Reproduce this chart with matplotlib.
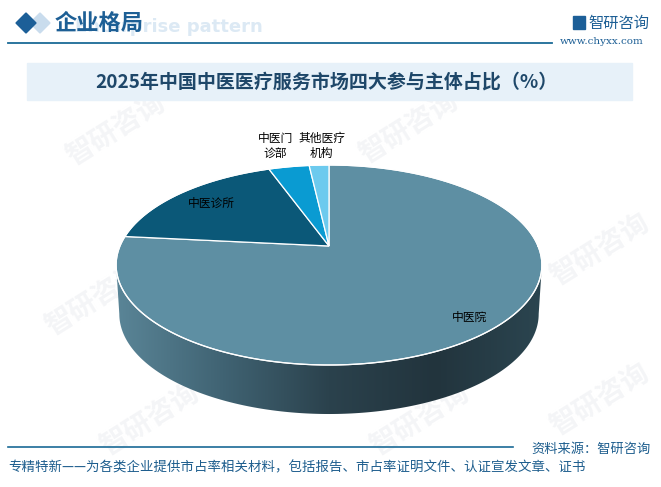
import numpy as np
import matplotlib
matplotlib.use("Agg")
import matplotlib.pyplot as plt
from matplotlib.patches import Polygon, Rectangle
from matplotlib.colors import LinearSegmentedColormap

plt.rcParams['font.family'] = ['Noto Sans CJK SC', 'DejaVu Sans']

# data
labels = ['中医院', '中医诊所', '中医门\n诊部', '其他医疗\n机构']
shares = [76.6, 17.9, 3.7, 1.8]
colors = ['#5e8fa3', '#0b5878', '#0a9bd2', '#6ccaee']

title = '2025年中国中医医疗服务市场四大参与主体占比（%）'
source = '资料来源：智研咨询'
footer = '专精特新——为各类企业提供市占率相关材料，包括报告、市占率证明文件、认证宣发文章、证书'

W, H = 661, 487
fig = plt.figure(figsize=(W / 100, H / 100), dpi=100)
ax = fig.add_axes([0, 0, 1, 1])
ax.set_xlim(0, W)
ax.set_ylim(H, 0)
ax.axis('off')

# faint watermarks
for wx, wy in [(116, 130), (409, 128), (95, 300), (150, 420), (420, 420), (600, 250), (600, 400)]:
    ax.text(wx, wy, '智研咨询', rotation=32, fontsize=20, fontweight='bold',
            color='#f4f5f7', ha='center', va='center', zorder=0)

# header
ax.add_patch(Polygon([(40, 13), (50, 23), (40, 33), (30, 23)], color='#c9dced', zorder=2))
ax.add_patch(Polygon([(26, 13), (36, 23), (26, 33), (16, 23)], color='#1c5f98', zorder=3))
ax.text(75, 27, 'Enterprise pattern', fontsize=13, fontweight='bold', color='#dce9f4',
        ha='left', va='center', family='DejaVu Sans', zorder=2)
ax.text(55, 23, '企业格局', fontsize=16, fontweight='bold', color='#1d5f95',
        ha='left', va='center', zorder=3)
ax.plot([8, 552], [43, 43], color='#1a6a96', lw=1.3)
ax.add_patch(Rectangle((573, 16), 12, 13, color='#1c5f98'))
ax.text(588, 23, '智研咨询', fontsize=11, color='#1d5f95', ha='left', va='center')
ax.text(602, 42, 'www.chyxx.com', fontsize=7.5, color='#1d5f95', ha='center', va='center',
        family='DejaVu Serif')

# title box
ax.add_patch(Rectangle((27, 63), 605, 37, color='#e7f1f9', zorder=1))
ax.text(326, 82, title, fontsize=13.7, fontweight='bold', color='#1e4769',
        ha='center', va='center', zorder=2)

# 3D pie geometry (simple perspective)
cx, cy0 = 329, 246
R, R2, k = 209, 96.4, 0.19
depth = 49


def proj(t, dy=0.0, s=1.0, r=1.0):
    u = r * np.cos(t)
    v = r * np.sin(t)
    w = 1 + k * v
    return cx + R * s * u / w, cy0 - R2 * v / w + dy


# side wall (front)
tr = -np.arcsin(k)
tl = -np.pi + np.arcsin(k)
ts = np.linspace(tr, tl, 200)
xt, yt = proj(ts)
xb, yb = proj(ts[::-1], dy=depth, s=0.985)
side = Polygon(np.column_stack([np.r_[xt, xb], np.r_[yt, yb]]), closed=True,
               facecolor='none', edgecolor='none', zorder=3)
ax.add_patch(side)
cmap = LinearSegmentedColormap.from_list('side', ['#5a8597', '#406373', '#2b424d', '#22343d', '#2b4550'])
grad = np.linspace(0, 1, 256).reshape(1, -1)
im = ax.imshow(grad, cmap=cmap, extent=[xt.min(), xt.max(), yb.max() + 2, yt.min()],
               aspect='auto', zorder=3)
im.set_clip_path(side)

# top wedges
total = sum(shares)
start = np.pi / 2
bounds = []
for share, col in zip(shares, colors):
    sweep = 2 * np.pi * share / total
    tt = np.linspace(start, start - sweep, max(int(share * 4), 8))
    px, py = proj(tt)
    pts = np.column_stack([np.r_[cx, px], np.r_[cy0, py]])
    ax.add_patch(Polygon(pts, closed=True, facecolor=col, edgecolor='white', lw=0.9, zorder=4))
    bounds.append((start, start - sweep))
    start -= sweep

# white rim
ta = np.linspace(0, 2 * np.pi, 400)
ex, ey = proj(ta)
ax.plot(ex, ey, color='white', lw=0.9, zorder=5)

# labels
label_r = [0.88, 0.78, 1.33, 1.3]
label_dx = [0, 0, -3, 5]
for (a0, a1), lab, rr, dx in zip(bounds, labels, label_r, label_dx):
    lx, ly = proj((a0 + a1) / 2, r=rr)
    ax.annotate(lab, (lx, ly), xytext=(dx, 0), textcoords='offset pixels',
                fontsize=8.5, color='black', ha='center', va='center',
                linespacing=1.25, zorder=6)

# footer
ax.plot([8, 513], [447, 447], color='#1a6a96', lw=1.2)
ax.text(651, 449, source, fontsize=9.5, color='#1e5e8e', ha='right', va='center')
ax.text(8, 467, footer, fontsize=9.7, color='#1e5e8e', ha='left', va='center')

fig.savefig('out.png', dpi=100)
